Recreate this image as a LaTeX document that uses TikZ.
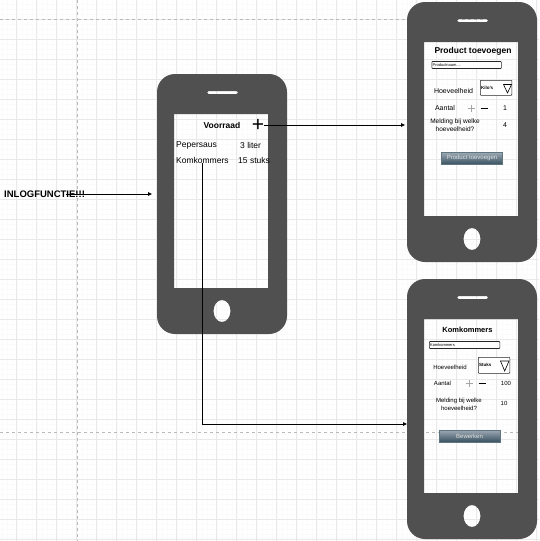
\documentclass[tikz,border=0pt]{standalone}
\usepackage{fontspec}
\setmainfont{Liberation Sans}
\usepackage{xcolor}
\usetikzlibrary{arrows.meta}

\definecolor{telefoongrijs}{RGB}{80,80,80}
\definecolor{knopboven}{RGB}{155,168,178}
\definecolor{knoponder}{RGB}{58,82,98}

\tikzset{
	tekst/.style={inner sep=0pt, font=\fontsize{8.5}{10}\selectfont},
	klein/.style={inner sep=0pt, font=\fontsize{7}{8}\selectfont},
	kleiner/.style={inner sep=0pt, font=\fontsize{6}{8}\selectfont},
	veld/.style={draw=black!85, line width=0.6pt, rounded corners=0.8pt, fill=white,
		inner sep=0.8pt, align=left, font=\fontsize{4}{4.5}\selectfont},
	knop/.style={top color=knopboven, bottom color=knoponder, draw=knoponder!80,
		minimum width=61pt, minimum height=11.5pt, inner sep=0pt,
		text=white!88!black, font=\fontsize{6}{7}\selectfont},
	pijl/.style={line width=0.8pt, -{Triangle[length=4pt,width=3.5pt]}},
	hulplijn/.style={gray!55, line width=0.5pt, dash pattern=on 3pt off 3pt}
}

% telefoon: naam, links, boven
\newcommand{\telefoon}[3]{%
	\fill[telefoongrijs, even odd rule]
		(#2,#3) [rounded corners=18pt] rectangle ++(130,260)
		[sharp corners] (#2+17,#3+40) rectangle ++(94,174)
		[rounded corners=1.5pt] (#2+50,#3+17) rectangle ++(31,3)
		[sharp corners] (#2+65,#3+237) ellipse (8.5 and 11);
	\node[inner sep=0pt, minimum width=130pt, minimum height=260pt] (#1) at (#2+65,#3+130) {};
}

\begin{document}
\begin{tikzpicture}[x=1pt, y=-1pt]
	\fill[white] (0,0) rectangle (539,541);
	\useasboundingbox (0,0) rectangle (539,541);

	% raster
	\begin{scope}
		\clip (0,0) rectangle (539,541);
		\begin{scope}[shift={(16.7,19.3)}]
			\draw[gray!3, line width=0.25pt, step=5pt] (-20pt,-560pt) grid (540pt,40pt);
			\draw[gray!17, line width=0.6pt, step=20pt] (-20pt,-560pt) grid (540pt,40pt);
		\end{scope}
		\draw[hulplijn] (77,0) -- (77,541);
		\draw[hulplijn] (0,19.3) -- (539,19.3);
		\draw[hulplijn] (0,432.3) -- (539,432.3);
	\end{scope}

	\telefoon{tel1}{157}{74}
	\telefoon{tel2}{407}{2}
	\telefoon{tel3}{407}{279}

	% voorraad
	\node[tekst, font=\fontsize{8.5}{10}\selectfont\bfseries] (voorraad) at (222,125) {Voorraad};
	\node[inner sep=0pt, font=\fontsize{21}{21}\selectfont] (plus) at (258,125) {+};
	\node[tekst, anchor=west] (pepersaus) at (176,145) {Pepersaus};
	\node[tekst, anchor=west] (liter) at (240,145) {3 liter};
	\node[tekst, anchor=west] (komk) at (176,160) {Komkommers};
	\node[tekst, anchor=west] (stuks) at (238,160) {15 stuks};

	% login
	\node[inner sep=0pt, font=\fontsize{9.5}{11}\selectfont\bfseries, anchor=west] (inlog) at (4,194) {INLOGFUNCTIE!!!};
	\coordinate (inlogbegin) at (66,194);
	\coordinate (inlogdoel) at (152,194);
	\coordinate (toevoegdoel) at (405,125);
	\coordinate (bewerkdoel) at (407,424);

	% product toevoegen
	\node[tekst, font=\fontsize{8.5}{10}\selectfont\bfseries] (titel2) at (473,51) {Product toevoegen};
	\node[veld, anchor=west, text width=68pt, minimum height=7pt] (naam2) at (431.5,65) {Productnaam....};
	\node[klein] (hoeveel2) at (453.5,90.5) {Hoeveelheid};
	\node[veld, anchor=north west, text width=30pt, minimum height=15pt, font=\fontsize{4.5}{5}\selectfont\bfseries] (keuze2) at (480,80) {Kilo's};
	\draw[line width=0.6pt] (503.5,84.5) -- (511.5,84.5) -- (507.5,93) -- cycle;
	\node[klein] (aantal2) at (445,108) {Aantal};
	\draw[gray!70, line width=0.5pt] (467.5,108) -- (474.5,108) (471,104.5) -- (471,111.5);
	\draw[line width=0.9pt] (480.5,108) -- (488,108);
	\node[klein] (een) at (505,108) {1};
	\node[kleiner, font=\fontsize{6.5}{8}\selectfont, align=center] (melding2) at (455,125) {Melding bij welke\\hoeveelheid?};
	\node[klein] (vier) at (505,125.5) {4};
	\node[knop] (knop2) at (472,158.3) {Product toevoegen};

	% komkommers bewerken
	\node[tekst, font=\fontsize{7.5}{9}\selectfont\bfseries] (titel3) at (467.5,330) {Komkommers};
	\node[veld, anchor=west, text width=69pt, minimum height=7pt] (naam3) at (429,345) {Komkommers};
	\node[kleiner] (hoeveel3) at (450,367.5) {Hoeveelheid};
	\node[veld, anchor=north west, text width=30pt, minimum height=16pt, font=\fontsize{4.5}{5}\selectfont\bfseries] (keuze3) at (478,357) {Stuks};
	\draw[line width=0.6pt] (500.5,361) -- (509,361) -- (504.7,371) -- cycle;
	\node[kleiner] (aantal3) at (442.5,383.5) {Aantal};
	\draw[gray!70, line width=0.5pt] (465.5,383) -- (472.5,383) (469,379.5) -- (469,386.5);
	\draw[line width=0.9pt] (478.5,383) -- (486,383);
	\node[kleiner] (honderd) at (506,383.5) {100};
	\node[kleiner, align=center] (melding3) at (459,404) {Melding bij welke\\hoeveelheid?};
	\node[kleiner] (tien) at (504,403) {10};
	\node[knop] (knop3) at (469.5,436) {Bewerken};

	% verbindingen
	\draw[pijl] (inlogbegin) -- (inlogdoel);
	\draw[pijl] (plus.east) -- (toevoegdoel);
	\draw[pijl] (komk.south) |- (bewerkdoel);
\end{tikzpicture}
\end{document}
